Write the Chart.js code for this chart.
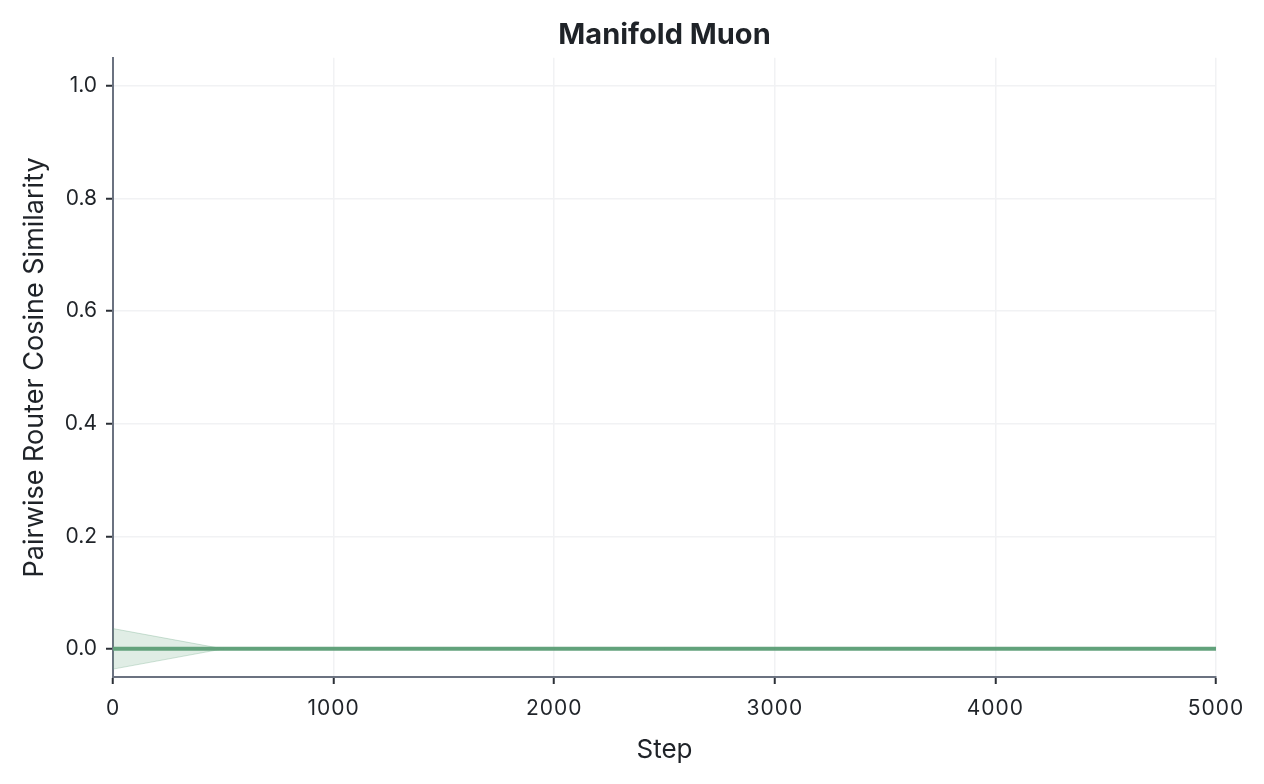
<!DOCTYPE html>
<html>
<head>
<meta charset="utf-8">
<script src="https://cdn.jsdelivr.net/npm/chart.js@4"></script>
<style>
  html, body { margin: 0; padding: 0; background: #ffffff; }
  #wrap { width: 1264px; height: 784px; position: relative; }
</style>
</head>
<body>
<div id="wrap"><canvas id="c"></canvas></div>
<script>
// ---- data ----
const steps = [0, 500, 1000, 1500, 2000, 2500, 3000, 3500, 4000, 4500, 5000];
const meanValues = [0, 0, 0, 0, 0, 0, 0, 0, 0, 0, 0];
const stdValues = [0.036, 0, 0, 0, 0, 0, 0, 0, 0, 0, 0];
const yTickValues = [0.0, 0.2, 0.4, 0.6, 0.8, 1.0];
const xTickValues = [0, 1000, 2000, 3000, 4000, 5000];
const chartTitle = 'Manifold Muon';
const xTitle = 'Step';
const yTitle = 'Pairwise Router Cosine Similarity';

const upper = steps.map((s, i) => ({ x: s, y: meanValues[i] + stdValues[i] }));
const lower = steps.map((s, i) => ({ x: s, y: meanValues[i] - stdValues[i] }));
const mean = steps.map((s, i) => ({ x: s, y: meanValues[i] }));

const lineColor = '#63a27c';
const textColor = '#1f2328';
const tickFont = "Inter, 'Noto Sans', sans-serif";
const sansFont = "Inter, 'Noto Sans', sans-serif";

// center the title over the plot area instead of the whole canvas
const centerTitle = {
  id: 'centerTitle',
  afterLayout(chart) {
    if (chart.titleBlock) {
      chart.titleBlock.left = chart.chartArea.left;
      chart.titleBlock.right = chart.chartArea.right;
      chart.titleBlock.width = chart.chartArea.right - chart.chartArea.left;
    }
  }
};

const chart = new Chart(document.getElementById('c'), {
  type: 'line',
  plugins: [centerTitle],
  data: {
    datasets: [
      { label: 'upper', data: upper, borderColor: 'rgba(101,163,126,0.3)', borderWidth: 1,
        backgroundColor: 'rgba(101,163,126,0.2)', fill: '+1', pointRadius: 0, tension: 0 },
      { label: 'lower', data: lower, borderColor: 'rgba(101,163,126,0.3)', borderWidth: 1,
        backgroundColor: 'rgba(101,163,126,0.2)', fill: false, pointRadius: 0, tension: 0 },
      { label: 'mean', data: mean, borderColor: lineColor, borderWidth: 4,
        fill: false, pointRadius: 0, tension: 0 }
    ]
  },
  options: {
    responsive: true,
    maintainAspectRatio: false,
    animation: false,
    devicePixelRatio: 1,
    layout: { padding: { left: 0, right: 48, top: 0, bottom: 0 } },
    plugins: {
      legend: { display: false },
      tooltip: { enabled: false },
      title: {
        display: true, text: chartTitle, color: textColor,
        font: { family: sansFont, size: 29, weight: 'bold' },
        padding: { top: 18, bottom: 5 }
      }
    },
    scales: {
      x: {
        type: 'linear', min: 0, max: 5000,
        afterBuildTicks: (s) => { s.ticks = xTickValues.map(v => ({ value: v })); },
        afterFit: (s) => { s.height = 107; },
        ticks: {
          color: textColor, font: { family: tickFont, size: 21 }, padding: 12,
          maxRotation: 0, autoSkip: false,
          callback: (v) => String(v)
        },
        grid: { color: '#f1f2f4', lineWidth: 1.5, tickLength: 7, tickColor: '#2b2f36', tickWidth: 2 },
        border: { color: '#6b7280', width: 2 },
        title: { display: true, text: xTitle, color: textColor,
          font: { family: sansFont, size: 26 }, padding: { top: 0, bottom: 18 } }
      },
      y: {
        type: 'linear', min: -0.05, max: 1.05,
        afterBuildTicks: (s) => { s.ticks = yTickValues.map(v => ({ value: v })); },
        afterFit: (s) => { s.width = 113; },
        ticks: {
          color: textColor, font: { family: tickFont, size: 21 }, padding: 9,
          callback: (v) => Number(v).toFixed(1)
        },
        grid: { color: '#f1f2f4', lineWidth: 1.5, tickLength: 7, tickColor: '#2b2f36', tickWidth: 2 },
        border: { color: '#6b7280', width: 2 },
        title: { display: true, text: yTitle, color: textColor,
          font: { family: sansFont, size: 27 }, padding: { top: 19, bottom: 0 } }
      }
    }
  }
});

// widen x tick label spacing slightly to mimic the reference font
const xs = chart.scales.x;
const origDrawLabels = xs.drawLabels.bind(xs);
xs.drawLabels = function (area) {
  const ctx = this.ctx;
  ctx.save();
  ctx.letterSpacing = '1px';
  origDrawLabels(area);
  ctx.restore();
};
chart.draw();
</script>
</body>
</html>
